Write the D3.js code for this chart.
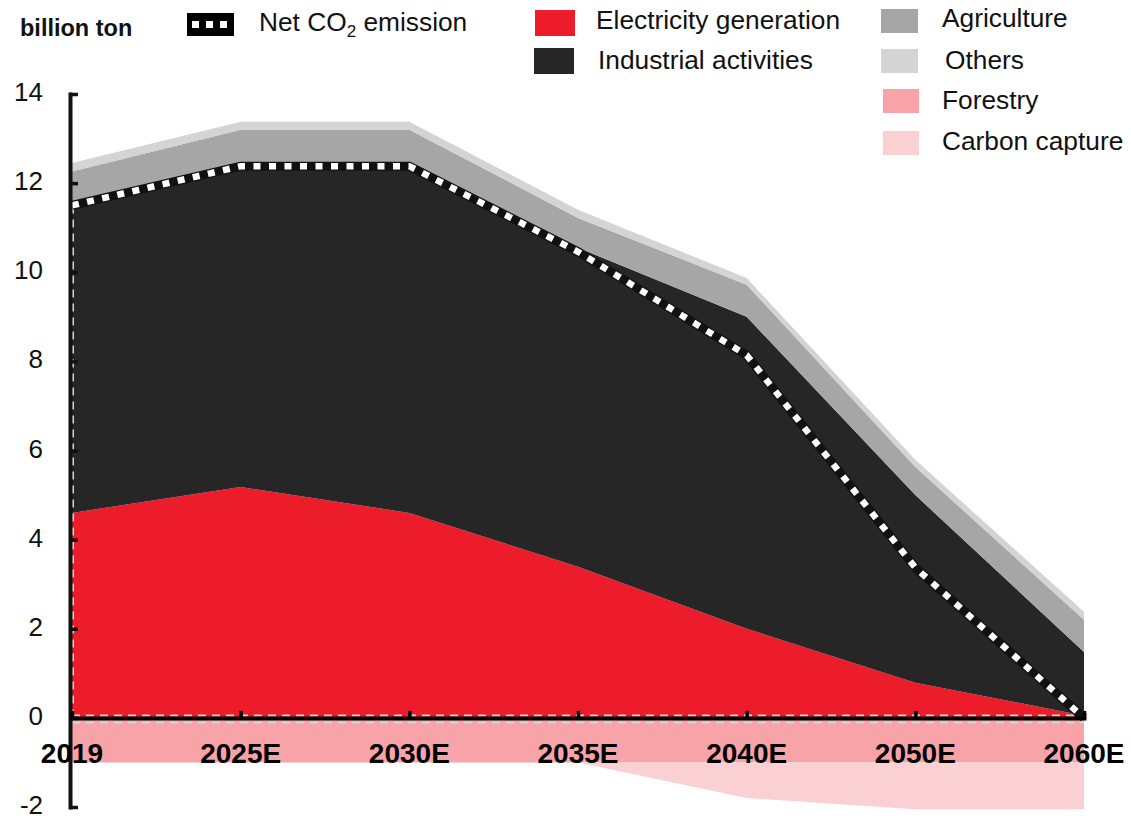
<!DOCTYPE html>
<html><head><meta charset="utf-8">
<script src="https://cdn.jsdelivr.net/npm/d3@7/dist/d3.min.js"></script>
<style>
body{margin:0;background:#fff}
svg{display:block;font-family:"Liberation Sans",Arial,Helvetica,sans-serif}
</style>
</head><body>
<svg id="chart" width="1131" height="820"></svg>
<script>
// ---- data ----
const categories = ["2019", "2025E", "2030E", "2035E", "2040E", "2050E", "2060E"];
const electricity = [4.6, 5.18, 4.6, 3.39, 2.0, 0.79, 0.05];
const industrial  = [6.9, 7.2, 7.78, 7.16, 7.0, 4.21, 1.43];
const agriculture = [0.76, 0.82, 0.82, 0.67, 0.72, 0.63, 0.72];
const others      = [0.19, 0.18, 0.18, 0.18, 0.15, 0.16, 0.18];
const forestry    = [1.0, 1.0, 1.0, 1.0, 1.0, 1.0, 1.0];      // removal (drawn below 0)
const carbonCapture = [0, 0, 0, 0, 0.8, 1.05, 1.05];        // removal (drawn below 0)
const netEmission = [11.5, 12.38, 12.38, 10.46, 8.14, 3.37, 0];
const yTicks = [-2, 0, 2, 4, 6, 8, 10, 12, 14];

const posKeys = ["Electricity generation", "Industrial activities", "Agriculture", "Others"];
const negKeys = ["Forestry", "Carbon capture"];
const colors = {
  "Electricity generation": "#ED1C2B",
  "Industrial activities": "#262626",
  "Agriculture": "#A6A6A6",
  "Others": "#D4D4D4",
  "Forestry": "#F8A3A8",
  "Carbon capture": "#FBD0D3"
};

const rows = categories.map((c, i) => ({
  cat: c,
  "Electricity generation": electricity[i],
  "Industrial activities": industrial[i],
  "Agriculture": agriculture[i],
  "Others": others[i],
  "Forestry": forestry[i],
  "Carbon capture": carbonCapture[i],
  net: netEmission[i]
}));

const svg = d3.select("#chart");
const x = d3.scalePoint().domain(categories).range([72, 1084]);
const y = d3.scaleLinear().domain([-2, 14]).range([807, 94]);

const posSeries = d3.stack().keys(posKeys)(rows);
const negSeries = d3.stack().keys(negKeys)(rows);

const areaPos = d3.area().x(d => x(d.data.cat)).y0(d => y(d[0])).y1(d => y(d[1]));
const areaNeg = d3.area().x(d => x(d.data.cat)).y0(d => y(-d[0])).y1(d => y(-d[1]));

svg.append("g").selectAll("path").data(negSeries).join("path")
  .attr("d", areaNeg).attr("fill", d => colors[d.key]);
svg.append("g").selectAll("path").data(posSeries).join("path")
  .attr("d", areaPos).attr("fill", d => colors[d.key]);

// light dashed outlines
const dashG = svg.append("g").attr("stroke", "#d6d6d6").attr("stroke-width", 2).attr("stroke-dasharray", "8,6").attr("fill", "none");
dashG.append("line").attr("x1", x(categories[0]) + 1).attr("x2", x(categories[0]) + 1)
  .attr("y1", y(netEmission[0])).attr("y2", y(0));
dashG.append("line").attr("x1", x(categories[0])).attr("x2", x(categories[categories.length - 1]))
  .attr("y1", y(0) - 2.5).attr("y2", y(0) - 2.5);
dashG.append("line").attr("x1", x(categories[0])).attr("x2", x(categories[categories.length - 1]))
  .attr("y1", y(0) + 4.5).attr("y2", y(0) + 4.5);

// net CO2 line
const line = d3.line().x(d => x(d.cat)).y(d => y(d.net));
svg.append("path").datum(rows).attr("d", line)
  .attr("fill", "none").attr("stroke", "#111").attr("stroke-width", 9);
svg.append("path").datum(rows).attr("d", line)
  .attr("fill", "none").attr("stroke", "#fff").attr("stroke-width", 6.5)
  .attr("stroke-dasharray", "7,8.5");

// y axis (ticks to the right)
const yAx = svg.append("g").attr("transform", "translate(70,0)")
  .call(d3.axisRight(y).tickValues(yTicks).tickSize(8).tickSizeOuter(0).tickFormat(""));
yAx.select(".domain").attr("stroke", "#111").attr("stroke-width", 4).attr("stroke-linecap", "square");
yAx.selectAll(".tick line").attr("stroke", "#111").attr("stroke-width", 3.5);

svg.append("g").selectAll("text").data(yTicks).join("text")
  .attr("x", 43).attr("y", d => y(d)).attr("dy", "0.27em")
  .attr("text-anchor", "end").attr("font-size", 26).attr("fill", "#111")
  .text(d => d);

// x axis at zero (ticks upward)
const xAx = svg.append("g").attr("transform", `translate(0,${y(0)})`)
  .call(d3.axisTop(x).tickSize(7).tickSizeOuter(0).tickFormat(""));
xAx.select(".domain").attr("stroke", "#000").attr("stroke-width", 4).attr("stroke-linecap", "square");
xAx.selectAll(".tick line").attr("stroke", "#000").attr("stroke-width", 3.5);

svg.append("g").selectAll("text").data(categories).join("text")
  .attr("x", d => x(d)).attr("y", 763)
  .attr("text-anchor", "middle").attr("font-size", 28).attr("font-weight", "bold").attr("fill", "#000")
  .text(d => d);

// unit label
svg.append("text").attr("x", 20).attr("y", 36).attr("font-size", 23.5).attr("font-weight", "bold")
  .attr("fill", "#111").text("billion ton");

// legend
const legend = svg.append("g").attr("font-size", 26.3).attr("fill", "#111");
legend.append("rect").attr("x", 187).attr("y", 13).attr("width", 47).attr("height", 23).attr("fill", "#000");
legend.selectAll("rect.sq").data([0, 1, 2]).join("rect").attr("class", "sq")
  .attr("x", i => 192 + i * 14).attr("y", 21).attr("width", 7).attr("height", 7).attr("fill", "#fff");
const nt = legend.append("text").attr("x", 259).attr("y", 31);
nt.append("tspan").text("Net CO");
nt.append("tspan").attr("font-size", 17).attr("dy", 6).text("2");
nt.append("tspan").attr("dy", -6).text(" emission");

const legendPos = {
  "Electricity generation": {sx: 535, sy: 10, sw: 40, sh: 26, tx: 596, ty: 29},
  "Industrial activities": {sx: 534, sy: 48, sw: 40, sh: 26, tx: 598, ty: 69},
  "Agriculture": {sx: 881, sy: 9, sw: 37, sh: 24, tx: 942, ty: 27},
  "Others": {sx: 881, sy: 49, sw: 37, sh: 24, tx: 945, ty: 69},
  "Forestry": {sx: 883, sy: 89, sw: 36, sh: 24, tx: 942, ty: 109},
  "Carbon capture": {sx: 883, sy: 131, sw: 36, sh: 24, tx: 942, ty: 150}
};
const legKeys = posKeys.concat(negKeys);
legend.selectAll("rect.sw").data(legKeys).join("rect").attr("class", "sw")
  .attr("x", k => legendPos[k].sx).attr("y", k => legendPos[k].sy)
  .attr("width", k => legendPos[k].sw).attr("height", k => legendPos[k].sh)
  .attr("fill", k => colors[k]);
legend.selectAll("text.lt").data(legKeys).join("text").attr("class", "lt")
  .attr("x", k => legendPos[k].tx).attr("y", k => legendPos[k].ty).text(k => k);
</script>
</body></html>
